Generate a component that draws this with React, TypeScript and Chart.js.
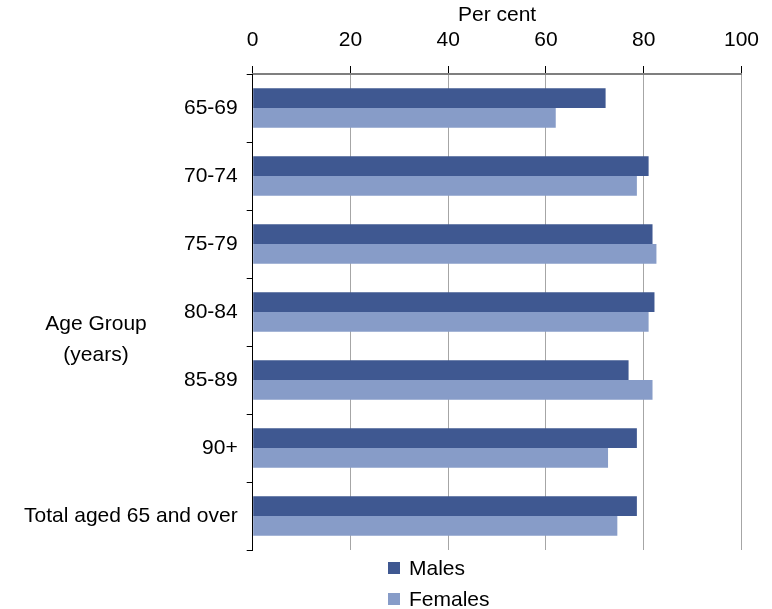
import React, { useEffect, useRef } from "react";
import { Chart, registerables } from "chart.js";

Chart.register(...registerables);

const categories = ["65-69", "70-74", "75-79", "80-84", "85-89", "90+", "Total aged 65 and over"];
const males = [72.2, 81.0, 81.8, 82.2, 76.9, 78.6, 78.6];
const females = [62.0, 78.6, 82.6, 81.0, 81.8, 72.7, 74.6];
const xTicks = [0, 20, 40, 60, 80, 100];
const seriesNames = ["Males", "Females"];
const xTitle = "Per cent";
const yTitleLines = ["Age Group", "(years)"];

const FONT = "'Liberation Sans', Arial, sans-serif";
const FS = 21;

export default function App() {
  const ref = useRef<HTMLCanvasElement | null>(null);

  useEffect(() => {
    document.body.style.margin = "0";
    const canvas = ref.current;
    if (!canvas) return;

    const extras = {
      id: "extras",
      afterDraw(chart: any) {
        const ctx = chart.ctx;
        const area = chart.chartArea;
        ctx.save();
        ctx.fillStyle = "#000";
        ctx.font = `${FS}px ${FONT}`;
        ctx.textAlign = "center";
        ctx.textBaseline = "middle";
        const cy = (area.top + area.bottom) / 2;
        yTitleLines.forEach((t, i) => {
          ctx.fillText(t, 96, cy + 12 + i * 31);
        });
        // legend
        ctx.textAlign = "left";
        chart.data.datasets.forEach((ds: any, i: number) => {
          const y = area.bottom + 18 + i * 31;
          ctx.fillStyle = ds.backgroundColor;
          ctx.fillRect(388, y - 6, 12, 12);
          ctx.fillStyle = "#000";
          ctx.fillText(ds.label, 409, y + 1);
        });
        ctx.restore();
      },
    };

    const chart = new Chart(canvas, {
      type: "bar",
      data: {
        labels: categories,
        datasets: [
          {
            label: seriesNames[0],
            data: males,
            backgroundColor: "#3F5891",
            borderWidth: 0,
            categoryPercentage: 0.58,
            barPercentage: 1,
          },
          {
            label: seriesNames[1],
            data: females,
            backgroundColor: "#879CC8",
            borderWidth: 0,
            categoryPercentage: 0.58,
            barPercentage: 1,
          },
        ],
      },
      options: {
        indexAxis: "y",
        animation: false,
        responsive: false,
        maintainAspectRatio: false,
        layout: { padding: { left: 0, right: 29, top: 0, bottom: 59 } },
        plugins: {
          legend: { display: false },
          tooltip: { enabled: false },
        },
        scales: {
          x: {
            position: "top",
            min: 0,
            max: 100,
            afterBuildTicks(scale: any) {
              scale.ticks = xTicks.map((v) => ({ value: v }));
            },
            afterFit(scale: any) {
              scale.height = 74;
            },
            ticks: {
              color: "#000",
              font: { family: FONT, size: FS },
              padding: 13,
              maxRotation: 0,
            },
            grid: {
              color: "#a6a6a6",
              tickColor: "#000",
              tickLength: 8,
              drawOnChartArea: true,
            },
            border: { color: "#7f7f7f", width: 2 },
            title: {
              display: true,
              text: xTitle,
              color: "#000",
              font: { family: FONT, size: FS },
              padding: { top: 3, bottom: 0 },
            },
          },
          y: {
            afterFit(scale: any) {
              scale.width = 252.7;
            },
            ticks: {
              color: "#000",
              font: { family: FONT, size: FS },
              padding: 9,
            },
            grid: {
              offset: true,
              drawOnChartArea: false,
              drawTicks: true,
              tickLength: 6,
              tickColor: "#000",
            },
            border: { color: "#000", width: 1 },
          },
        },
      },
      plugins: [extras],
    } as any);

    return () => chart.destroy();
  }, []);

  return (
    <div style={{ width: 772, height: 609, background: "#fff" }}>
      <canvas ref={ref} width={772} height={609} style={{ display: "block" }} />
    </div>
  );
}
